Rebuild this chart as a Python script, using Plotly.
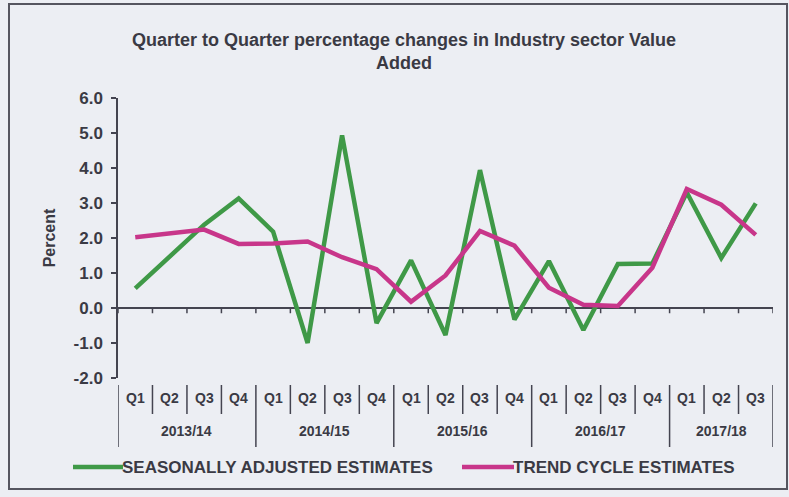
import plotly.graph_objects as go

quarters = ["Q1", "Q2", "Q3", "Q4", "Q1", "Q2", "Q3", "Q4", "Q1", "Q2", "Q3", "Q4",
            "Q1", "Q2", "Q3", "Q4", "Q1", "Q2", "Q3"]
years = ["2013/14", "2014/15", "2015/16", "2016/17", "2017/18"]
year_sizes = [4, 4, 4, 4, 3]
seasonally_adjusted = [0.56, 1.45, 2.38, 3.13, 2.18, -1.0, 4.93, -0.43, 1.36, -0.77,
                       3.94, -0.33, 1.34, -0.63, 1.26, 1.27, 3.3, 1.43, 2.99]
trend_cycle = [2.02, 2.12, 2.24, 1.83, 1.84, 1.9, 1.45, 1.11, 0.18, 0.93,
               2.2, 1.78, 0.58, 0.09, 0.06, 1.15, 3.4, 2.95, 2.09]
y_ticks = [-2, -1, 0, 1, 2, 3, 4, 5, 6]
series_names = ["SEASONALLY ADJUSTED ESTIMATES", "TREND CYCLE ESTIMATES"]

FONT = "Liberation Sans Narrow, Arial Narrow, Liberation Sans, Arial, sans-serif"
TXT = "#3a3a44"
AX = "#444450"
GREEN = "#3f9947"
PINK = "#c8368a"

L, R, T, B = 118, 16, 98, 119
W, H = 789, 497
PW, PH = W - L - R, H - T - B


def px(xp):
    return (xp - L) / PW


def py(yp):
    return (H - B - yp) / PH


x = list(range(len(quarters)))
fig = go.Figure()
fig.add_trace(go.Scatter(x=x, y=seasonally_adjusted, mode="lines", name=series_names[0],
                         line=dict(color=GREEN, width=4.5)))
fig.add_trace(go.Scatter(x=x, y=trend_cycle, mode="lines", name=series_names[1],
                         line=dict(color=PINK, width=4.5)))

shapes = []
annotations = []
n = len(quarters)
for k in range(n + 1):
    shapes.append(dict(type="line", xref="x", yref="y", x0=k - 0.5, x1=k - 0.5,
                       y0=0, y1=-0.15, line=dict(color=AX, width=1.5)))
for i, q in enumerate(quarters):
    annotations.append(dict(x=i, y=py(398), xref="x", yref="paper", text="<b>%s</b>" % q,
                            showarrow=False, yanchor="middle",
                            font=dict(family=FONT, size=14, color=TXT)))
bounds = [0]
for s in year_sizes:
    bounds.append(bounds[-1] + s)
for k in range(n + 1):
    is_year = k in bounds
    shapes.append(dict(type="line", xref="x", yref="paper", x0=k - 0.5, x1=k - 0.5,
                       y0=py(385), y1=py(447) if is_year else py(414),
                       line=dict(color=AX, width=1.5)))
for j, yr in enumerate(years):
    c = (bounds[j] + bounds[j + 1] - 1) / 2
    annotations.append(dict(x=c, y=py(431), xref="x", yref="paper", text="<b>%s</b>" % yr,
                            showarrow=False, yanchor="middle",
                            font=dict(family=FONT, size=14, color=TXT)))

# legend (drawn manually)
leg = [(73, 123, GREEN, series_names[0]), (462, 514, PINK, series_names[1])]
for x0, x1, col, name in leg:
    shapes.append(dict(type="line", xref="paper", yref="paper", x0=px(x0), x1=px(x1),
                       y0=py(467), y1=py(467), line=dict(color=col, width=4.5)))
    annotations.append(dict(x=px(x1), y=py(467), xref="paper", yref="paper",
                            text="<b>%s</b>" % name, showarrow=False, xanchor="left",
                            yanchor="middle", xshift=-3,
                            font=dict(family=FONT, size=17, color=TXT)))

# outer frame
shapes.append(dict(type="rect", xref="paper", yref="paper",
                   x0=px(9), x1=px(787), y0=py(489), y1=py(4),
                   line=dict(color="#55555f", width=2), layer="below"))

fig.update_layout(
    width=W, height=H,
    margin=dict(l=L, r=R, t=T, b=B),
    paper_bgcolor="#eceef3",
    plot_bgcolor="rgba(0,0,0,0)",
    showlegend=False,
    title=dict(text="<b>Quarter to Quarter percentage changes in Industry sector Value<br>Added</b>",
               x=404 / W, xanchor="center", y=1 - 46 / H, yanchor="middle",
               font=dict(family=FONT, size=18, color=TXT)),
    xaxis=dict(range=[-0.5, n - 0.5], showticklabels=False, showgrid=False,
               zeroline=False, showline=False, ticks=""),
    yaxis=dict(range=[-2, 6], tickvals=y_ticks, ticktext=["<b>%.1f</b>" % v for v in y_ticks],
               showgrid=False, showline=True, linecolor=AX, linewidth=1.5,
               ticks="outside", ticklen=5, tickcolor=AX, tickwidth=1.5,
               ticklabelstandoff=5,
               zeroline=True, zerolinecolor=AX, zerolinewidth=1.5,
               tickfont=dict(family=FONT, size=17, color=TXT),
               title=dict(text="<b>Percent</b>", standoff=14,
                          font=dict(family=FONT, size=16, color=TXT))),
    shapes=shapes,
    annotations=annotations,
)

fig.write_html("out.html")
